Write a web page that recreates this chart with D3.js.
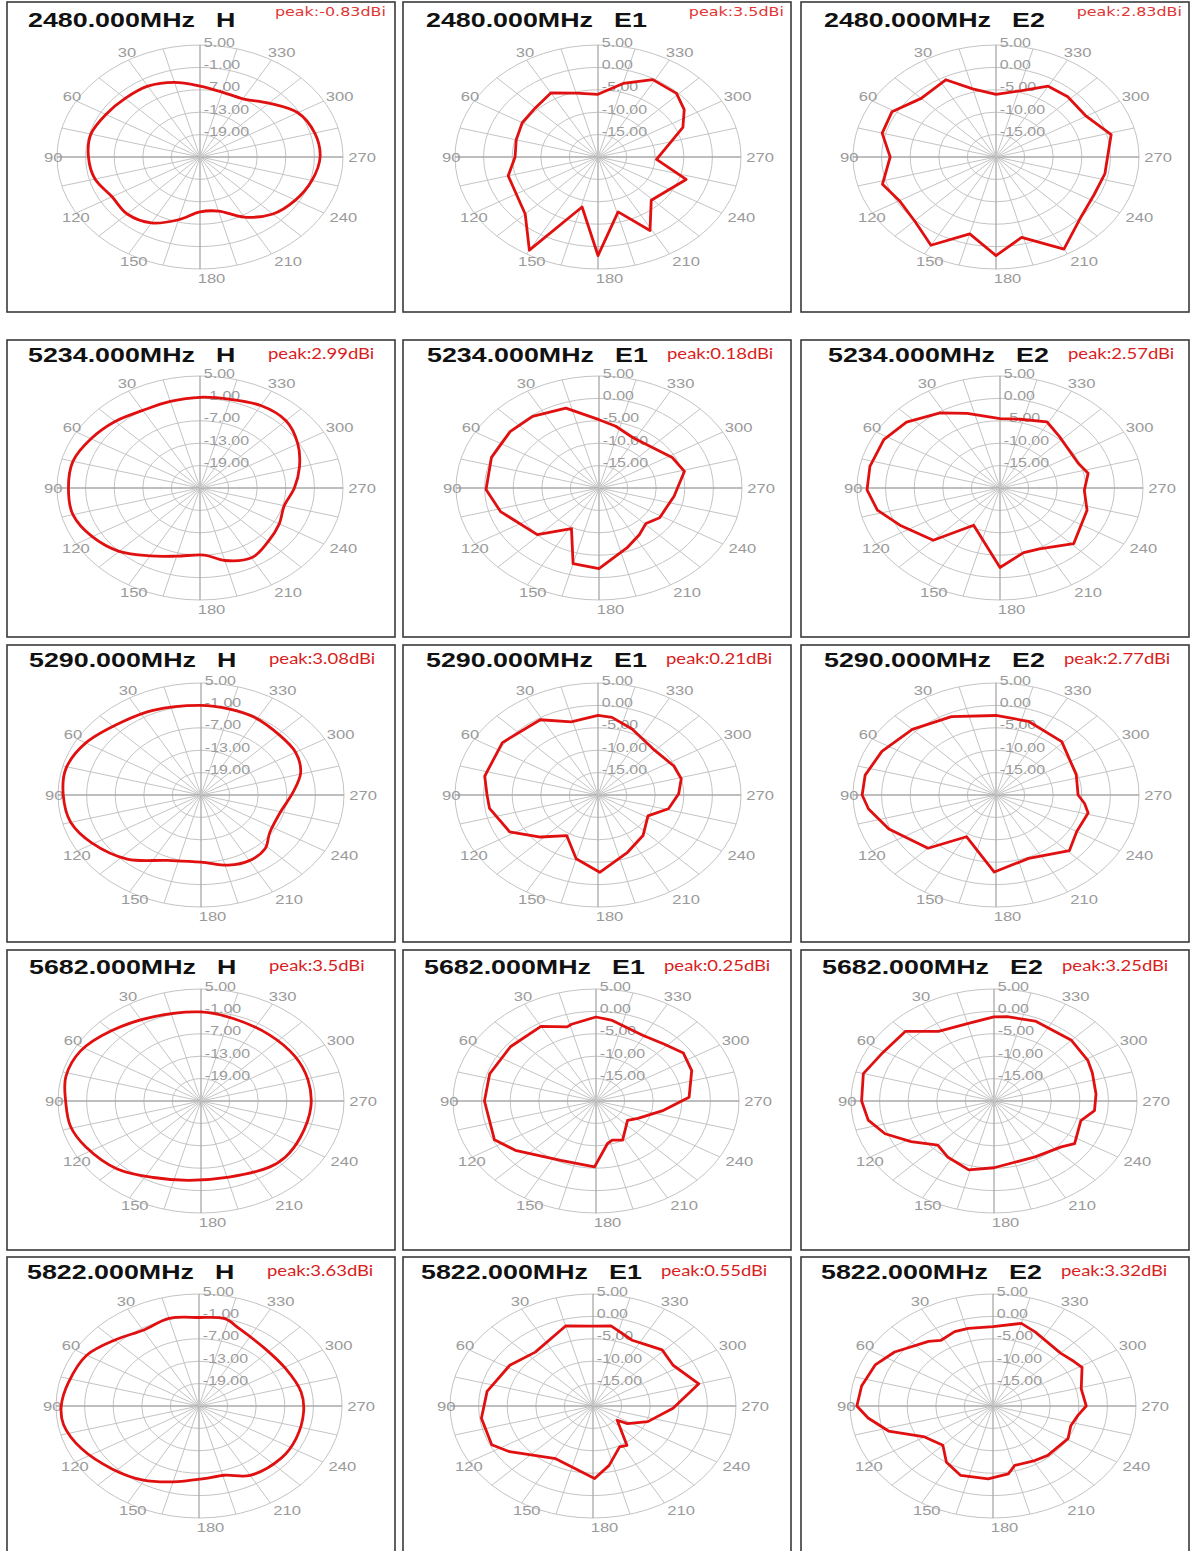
<!DOCTYPE html>
<html>
<head>
<meta charset="utf-8">
<script src="https://cdn.jsdelivr.net/npm/d3@7"></script>
<style>
body { margin: 0; background: #fff; }
svg text { font-family: "Liberation Sans", Arial, sans-serif; }
</style>
</head>
<body>
<div id="chart"></div>
<script>
// gain patterns: [angle (deg, counter-clockwise from top), gain (dB)]
var freqs = ["2480.000MHz", "5234.000MHz", "5290.000MHz", "5682.000MHz", "5822.000MHz"];
var pols = ["H", "E1", "E2"];
var peaks = [
    ["-0.83", "3.5", "2.83"],
    ["2.99", "0.18", "2.57"],
    ["3.08", "0.21", "2.77"],
    ["3.5", "0.25", "3.25"],
    ["3.63", "0.55", "3.32"]
];
var ringsH = [5, -1, -7, -13, -19];   // centre = -25
var ringsE = [5, 0, -5, -10, -15];    // centre = -20
var angleTicks = [30, 60, 90, 120, 150, 180, 210, 240, 270, 300, 330];

var h2480 = [[0,-6],[15,-4.3],[30,-3.1],[45,-2.8],[60,-2.2],[75,-1.3],[90,-1.6],[105,-2.2],[120,-3.7],[135,-3.4],[150,-4.6],[165,-7.6],[180,-10.3],[195,-10],[210,-6.4],[225,-3.4],[240,-1.9],[255,-0.7],[270,0.2],[285,-0.1],[300,-1.3],[315,-4.6],[330,-7],[345,-7]];
var e1_2480 = [[0,-6],[15,-5.25],[30,-3.5],[45,-4.5],[60,-4.7],[75,-5.2],[90,-5.5],[105,-3.75],[120,-3.5],[135,-2],[150,4],[166,-8.5],[180,2],[196,-7.25],[209,-1.25],[224,-6.6],[252,-3.8],[267,-9.75],[294,-3.75],[305,-1.6],[316,-0.25],[331,-0.25],[345,-3]];
var e2_2480 = [[0,-6],[15,-4.25],[27,-0.65],[45,-1.5],[61,0.8],[75,0.6],[90,-1.5],[107,0.75],[120,-0.5],[136,0.25],[150,2.75],[165,-2.25],[180,2],[194,-1.5],[210,3.75],[228,0],[244,-0.9],[259,-0.6],[270,-0.5],[284,0.75],[300,-1.8],[317,-1.6],[330,-1.75],[343,-4.5]];

var h5234 = [[0,-0.7],[15,-1],[30,-1],[45,0.2],[60,1.4],[75,2.6],[90,2.6],[105,2.6],[120,1.1],[135,-1],[150,-4],[165,-6.1],[183,-7],[195,-4.9],[210,-3.4],[225,-4.75],[240,-5.8],[255,-6.7],[270,-5.2],[285,-3.4],[300,-1.3],[315,0.5],[330,0.5],[345,-0.4]];
var e1_5234 = [[0,-4.75],[18,-1.25],[36,-0.25],[51,0],[70,0],[91,-0.25],[107,-2],[134,-5],[152,-9.75],[165,-2.5],[180,-2],[200,-5.75],[214,-7.4],[226,-8.6],[238,-7.5],[262,-6.75],[284,-4.6],[298,-5.5],[332,-7.3],[348,-5.9]];
var e2_5234 = [[0,-4.5],[19,-2.4],[32,-0.25],[48,2],[62,3],[78,3.25],[91,3.25],[103,2],[116,-0.75],[135,-3.5],[151,-10.5],[180,-2.25],[196,-5],[207,-4.75],[226,-2.1],[252,-4],[268,-5.25],[282,-4.25],[292,-5.25],[318,-4.5],[331,-3.1],[347,-4.25]];

var h5290 = [[0,-1],[24,-0.2],[40,0.6],[60,2.9],[76,4.2],[90,3.9],[105,3.3],[119,1.3],[138,-1.9],[158,-6.1],[180,-7],[197,-5.35],[210,-4.7],[223,-5.3],[235,-7.4],[254,-7.75],[272,-5.7],[286,-3.25],[300,-2.1],[314,-2],[332,-1.35],[346,-1.2]];
var e1_5290 = [[0,-2.25],[16,-3],[31,-0.4],[55,0.4],[78,0.25],[90,-0.6],[99,-0.8],[118,-2.5],[133,-6.25],[149,-9.4],[165,-5.25],[181,-2.75],[202,-6.2],[221,-8],[242,-10.1],[256,-7.3],[271,-5.9],[284,-5],[296,-5.25],[317,-5.9],[338,-4.1],[352,-2.5]];
var e2_5290 = [[0,-2.25],[24,-0.85],[45,0.7],[64,2.2],[79,3.3],[90,3.4],[98,2.5],[112,0.2],[135,-3.2],[151,-9.35],[179,-2.8],[202,-4.75],[226,-2.15],[240,-3.7],[256,-3.4],[263,-4.4],[270,-5.65],[288,-5.25],[316,-3.45],[341,-2.6]];

var h5682 = [[0,-1.15],[24,-0.3],[45,1.6],[62,3.6],[77,4.1],[90,3.4],[104,3.2],[117,2.1],[136,0.3],[154,-2.2],[173,-3.6],[196,-3.8],[219,-2.2],[230,-1.8],[245,-2],[266,-1.9],[284,-1.85],[301,-1.95],[321,-2.2],[343,-1.9]];
var e1_5682 = [[0,-1.25],[14,-2.35],[17,-2.7],[30,-0.75],[51,-0.75],[72,-0.45],[90,-0.5],[116,-0.25],[128,-2.1],[155,-5.4],[179,-5.3],[192,-10.3],[198,-10.8],[208,-10.1],[232,-13],[242,-11.7],[260,-8],[273,-3.7],[292,-1.95],[305,-1.35],[317,-2.6],[331,-3.2],[351,-1.8]];
var e2_5682 = [[0,-1.2],[15,-2.1],[32,-1.7],[45,1.95],[62,2.3],[75,3.65],[90,3.15],[101,2.4],[111,0.4],[122,-2.9],[135,-6.1],[147,-5.1],[164,-4],[180,-5.1],[210,-5.6],[229,-4.4],[236,-3],[254,-4.2],[263,-2.3],[275,-2.1],[290,-1.7],[299,-1.25],[315,-0.85],[338,-0.75],[353,-1.05]];

var h5822 = [[0,-1.3],[15,-0.7],[30,-1.55],[44,-0.15],[60,2.2],[77,3.1],[90,3.9],[100,3.85],[115,2.15],[133,-0.2],[149,-1.9],[165,-3.95],[183,-5.5],[196,-5.7],[210,-3.55],[231,-2.8],[247,-2.85],[266,-3],[280,-3.25],[299,-4.25],[318,-4.3],[338,-2.6],[347,-1]];
var e1_5822 = [[0,-2.15],[15,-1.5],[40,-4.3],[58,-2.85],[80,-1.2],[98,-0.3],[116,-0.3],[125,-2.2],[151,-6.55],[181,-3.8],[192,-6.45],[207,-9.75],[214,-9.4],[233,-14.7],[237,-12.8],[250,-9.8],[268,-6],[285,-0.85],[303,-3.3],[316,-2.6],[325,-3.4],[335,-3.8],[350,-1.85]];
var e2_5822 = [[0,-2.3],[14,-2.15],[22,-2.1],[32,-2.75],[38,-1.7],[55,1],[66,2.55],[79,3.4],[90,3.8],[97,2],[107,-0.9],[120,-6.2],[135,-7.6],[147,-5.05],[160,-3.5],[177,-3.7],[190,-4.6],[196,-6.2],[211,-5.8],[221,-5.4],[241,-5],[252,-5.7],[262,-5],[270,-3.7],[284,-4.1],[299,-2.2],[305,-2.7],[315,-3.3],[336,-1.9],[345,-0.9]];

var patterns = [
    [h2480, e1_2480, e2_2480],
    [h5234, e1_5234, e2_5234],
    [h5290, e1_5290, e2_5290],
    [h5682, e1_5682, e2_5682],
    [h5822, e1_5822, e2_5822]
];

// layout of the 5x3 grid
var width = 1190, height = 1551;
var R = 112, SX = 143 / 112;           // plots are stretched horizontally
var rowBox = [[2, 312], [340, 637], [645, 942], [950, 1250], [1257, 1556]];
var colBox = [[7, 395], [403, 791], [801, 1189]];
var centreX = [[200, 598, 996], [200, 599, 1000], [201, 598, 996], [201, 596, 994], [199, 593, 993]];
var centreY = [157, 488, 795, 1101, 1406];
var titleY = [27, 362, 667, 974, 1279];

var svg = d3.select("#chart").append("svg")
    .attr("width", width).attr("height", height)
    .style("background", "#fff");

var rad = Math.PI / 180;

freqs.forEach(function(freq, i) {
    pols.forEach(function(pol, j) {
        var cx = centreX[i][j], cy = centreY[i];
        var rings = pol === "H" ? ringsH : ringsE;
        var vmin = rings[4] - (rings[0] - rings[1]);
        var r = d3.scaleLinear().domain([vmin, 5]).range([0, R]).clamp(true);

        // panel frame
        svg.append("rect")
            .attr("x", colBox[j][0]).attr("y", rowBox[i][0])
            .attr("width", colBox[j][1] - colBox[j][0])
            .attr("height", rowBox[i][1] - rowBox[i][0])
            .attr("fill", "none").attr("stroke", "#3a3a3a").attr("stroke-width", 1.6);

        var g = svg.append("g").attr("transform", "translate(" + cx + "," + cy + ") scale(" + SX + ",1)");

        // rings
        g.selectAll(".ring").data(rings).enter().append("circle")
            .attr("r", function(d) { return r(d); })
            .attr("fill", "none").attr("stroke", "#c4c4c4").attr("stroke-width", 1)
            .attr("vector-effect", "non-scaling-stroke");

        // spokes every 15 degrees
        g.selectAll(".spoke").data(d3.range(0, 360, 15)).enter().append("line")
            .attr("x1", 0).attr("y1", 0)
            .attr("x2", function(a) { return -R * Math.sin(a * rad); })
            .attr("y2", function(a) { return -R * Math.cos(a * rad); })
            .attr("stroke", function(a) { return a % 90 === 0 ? "#a8a8a8" : "#c4c4c4"; })
            .attr("stroke-width", function(a) { return a % 90 === 0 ? 1.3 : 1; })
            .attr("vector-effect", "non-scaling-stroke");

        // angle labels
        g.selectAll(".ang").data(angleTicks).enter().append("text")
            .attr("x", function(a) { return -121 * Math.sin(a * rad) + 6 - 3 * Math.cos(a * rad); })
            .attr("y", function(a) { return -121 * Math.cos(a * rad); })
            .attr("dy", "0.36em")
            .attr("text-anchor", "middle")
            .attr("font-size", 13).attr("fill", "#9a9a9a")
            .text(function(a) { return a; });

        // ring value labels
        g.selectAll(".rl").data(rings).enter().append("text")
            .attr("x", 3).attr("y", function(d) { return -r(d) + 1.5; })
            .attr("font-size", 12.5).attr("fill", "#9a9a9a")
            .text(function(d) { return d.toFixed(2); });

        // pattern
        var line = d3.lineRadial()
            .angle(function(d) { return -d[0] * rad; })
            .radius(function(d) { return r(d[1]); })
            .curve(pol === "H" ? d3.curveCatmullRomClosed.alpha(0.5) : d3.curveLinearClosed);

        g.append("path").datum(patterns[i][j])
            .attr("d", line)
            .attr("fill", "none").attr("stroke", "#e01010").attr("stroke-width", 2.8)
            .attr("stroke-linejoin", "round")
            .attr("vector-effect", "non-scaling-stroke");

        // titles
        svg.append("text")
            .attr("transform", "translate(" + (cx - 172) + "," + titleY[i] + ") scale(" + SX + ",1)")
            .attr("font-size", 21).attr("font-weight", "bold").attr("fill", "#111")
            .text(freq);
        svg.append("text")
            .attr("transform", "translate(" + (cx + 16) + "," + titleY[i] + ") scale(" + SX + ",1)")
            .attr("font-size", 21).attr("font-weight", "bold").attr("fill", "#111")
            .text(pol);

        // peak gain
        if (i === 0) {
            svg.append("text")
                .attr("transform", "translate(" + (cx + 186) + ",16) scale(" + SX + ",1)")
                .attr("text-anchor", "end")
                .style("font-family", "'DejaVu Sans', sans-serif")
                .attr("font-size", 12.5).attr("fill", "#e03636")
                .text("peak:" + peaks[i][j] + "dBi");
        } else {
            svg.append("text")
                .attr("transform", "translate(" + (cx + 68) + "," + (titleY[i] - 3) + ") scale(" + SX + ",1)")
                .style("font-family", "Lato, 'Open Sans', sans-serif")
                .attr("font-size", 14.5).attr("fill", "#d81e1e")
                .text("peak:" + peaks[i][j] + "dBi");
        }
    });
});
</script>
</body>
</html>
